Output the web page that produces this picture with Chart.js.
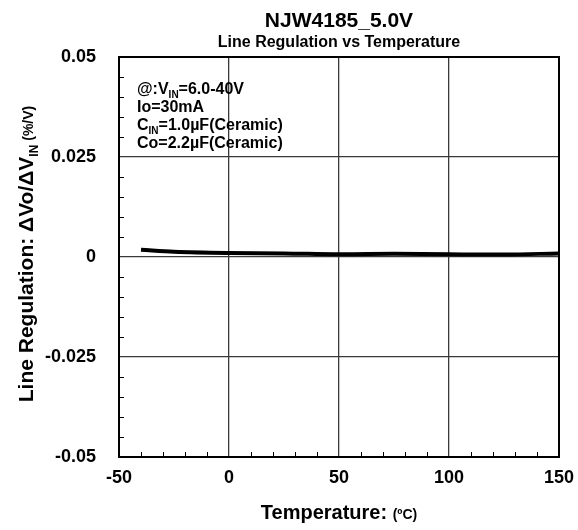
<!DOCTYPE html>
<html>
<head>
<meta charset="utf-8">
<script src="https://cdn.jsdelivr.net/npm/chart.js@4.4.1/dist/chart.umd.min.js"></script>
<style>
  html, body { margin: 0; padding: 0; background: #fff; }
  #wrap { width: 578px; height: 530px; }
</style>
</head>
<body>
<div id="wrap"><canvas id="chart" width="578" height="530"></canvas></div>
<script>
// data
const temps = [-40, -25, 0, 25, 50, 75, 100, 125, 150];
const lineReg = [0.0018, 0.0013, 0.001, 0.0009, 0.0007, 0.0008, 0.0007, 0.0006, 0.0009];
const xMajorTicks = [-50, 0, 50, 100, 150];
const yMajorTicks = [0.05, 0.025, 0, -0.025, -0.05];
const noteLines = [
  [['@:V', 16], ['IN', 10, 4], ['=6.0-40V', 16]],
  [['Io=30mA', 16]],
  [['C', 16], ['IN', 10, 4], ['=1.0µF(Ceramic)', 16]],
  [['Co=2.2µF(Ceramic)', 16]]
];

const FONT = '"Liberation Sans", Arial, sans-serif';

function isMajorY(v) {
  return yMajorTicks.some(t => Math.abs(t - v) < 1e-9);
}
function isMajorX(v) {
  return xMajorTicks.some(t => Math.abs(t - v) < 1e-9);
}

// text runs: [text, size, dy]
function runWidth(ctx, parts) {
  let w = 0;
  parts.forEach(p => {
    ctx.font = 'bold ' + p[1] + 'px ' + FONT;
    w += ctx.measureText(p[0]).width;
  });
  return w;
}
function drawRun(ctx, parts, x, y) {
  ctx.textAlign = 'left';
  ctx.textBaseline = 'alphabetic';
  parts.forEach(p => {
    ctx.font = 'bold ' + p[1] + 'px ' + FONT;
    ctx.fillText(p[0], x, y + (p[2] || 0));
    x += ctx.measureText(p[0]).width;
  });
}

const decorPlugin = {
  id: 'decor',
  afterDatasetsDraw(chart) {
    const ctx = chart.ctx;
    const area = chart.chartArea;
    const xs = chart.scales.x, ys = chart.scales.y;
    ctx.save();
    // minor ticks pointing inward
    ctx.strokeStyle = '#000';
    ctx.lineWidth = 1;
    ctx.beginPath();
    xs.ticks.forEach(t => {
      if (isMajorX(t.value)) return;
      const px = Math.round(xs.getPixelForValue(t.value)) + 0.5;
      ctx.moveTo(px, area.bottom);
      ctx.lineTo(px, area.bottom - 5);
    });
    ys.ticks.forEach(t => {
      if (isMajorY(t.value)) return;
      const py = Math.round(ys.getPixelForValue(t.value)) + 0.5;
      ctx.moveTo(area.left, py);
      ctx.lineTo(area.left + 5, py);
    });
    ctx.stroke();
    // frame
    ctx.lineWidth = 2;
    ctx.strokeRect(area.left, area.top, area.right - area.left, area.bottom - area.top);
    ctx.restore();
  },
  afterDraw(chart) {
    const ctx = chart.ctx;
    const area = chart.chartArea;
    const cx = (area.left + area.right) / 2;
    ctx.save();
    ctx.fillStyle = '#000';

    // titles
    let parts = [['NJW4185_5.0V', 21]];
    drawRun(ctx, parts, cx - runWidth(ctx, parts) / 2, 27);
    parts = [['Line Regulation vs Temperature', 16]];
    drawRun(ctx, parts, cx - runWidth(ctx, parts) / 2, 47);

    // conditions text
    noteLines.forEach((line, i) => {
      drawRun(ctx, line, 137, 94 + i * 18);
    });

    // x axis title
    parts = [['Temperature: ', 20], ['(ºC)', 14]];
    drawRun(ctx, parts, cx - runWidth(ctx, parts) / 2, 519);

    // y axis title (rotated)
    parts = [['Line Regulation: ΔVo/ΔV', 21], ['IN', 12, 5], [' (%/V)', 14]];
    ctx.translate(33, 254);
    ctx.rotate(-Math.PI / 2);
    drawRun(ctx, parts, -runWidth(ctx, parts) / 2, 0);
    ctx.restore();
  }
};

new Chart(document.getElementById('chart'), {
  type: 'line',
  data: {
    labels: temps,
    datasets: [{
      data: temps.map((t, i) => ({ x: t, y: lineReg[i] })),
      borderColor: '#000',
      borderWidth: 4,
      pointRadius: 0,
      tension: 0.35,
      fill: false
    }]
  },
  options: {
    responsive: false,
    animation: false,
    layout: { padding: { top: 57, right: 19, left: 0, bottom: 0 } },
    plugins: {
      legend: { display: false },
      tooltip: { enabled: false }
    },
    scales: {
      x: {
        type: 'linear',
        min: -50,
        max: 150,
        afterFit: s => { s.height = 73; s.paddingLeft = 0; s.paddingRight = 0; },
        border: { display: false },
        grid: {
          drawTicks: false,
          color: c => (c.tick && isMajorX(c.tick.value) ? '#3a3a3a' : 'rgba(0,0,0,0)'),
          lineWidth: 1.3
        },
        ticks: {
          stepSize: 10,
          padding: 10,
          color: '#000',
          autoSkip: false,
          maxRotation: 0,
          font: { family: FONT, size: 18, weight: 'bold' },
          callback: v => (isMajorX(v) ? String(v) : '')
        }
      },
      y: {
        min: -0.05,
        max: 0.05,
        afterFit: s => { s.width = 119; s.paddingTop = 0; s.paddingBottom = 0; },
        border: { display: false },
        grid: {
          drawTicks: false,
          color: c => (c.tick && isMajorY(c.tick.value) ? '#3a3a3a' : 'rgba(0,0,0,0)'),
          lineWidth: 1.3
        },
        ticks: {
          stepSize: 0.005,
          padding: 23,
          color: '#000',
          autoSkip: false,
          font: { family: FONT, size: 18, weight: 'bold' },
          callback: v => {
            if (!isMajorY(v)) return '';
            const r = Math.round(v * 1000) / 1000;
            return r === 0 ? '0' : String(r);
          }
        }
      }
    }
  },
  plugins: [decorPlugin]
});
</script>
</body>
</html>
